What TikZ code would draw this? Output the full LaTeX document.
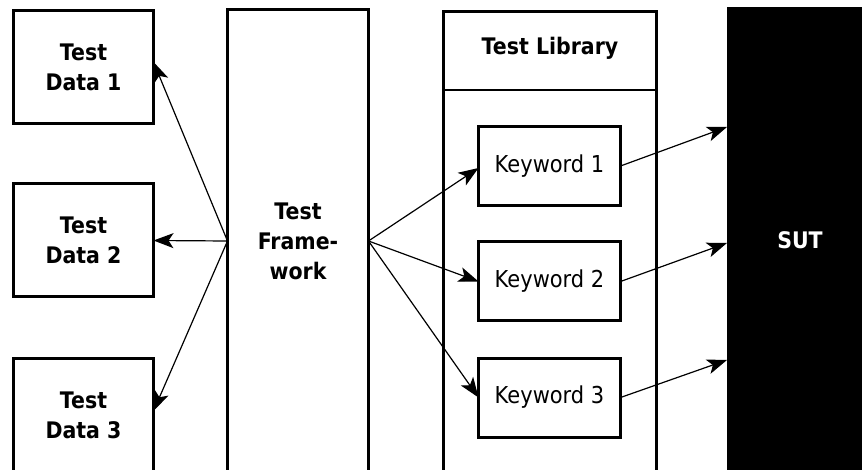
\documentclass[tikz,border=0pt]{standalone}
\usepackage{fontspec}
\setmainfont{DejaVu Sans}[FakeStretch=0.9]
\usetikzlibrary{arrows.meta}
\begin{document}
\begin{tikzpicture}[x=1pt,y=-1pt,
  box/.style={draw, line width=3pt, inner sep=0pt, outer sep=0pt, align=center,
    font=\fontsize{22.8}{30}\selectfont\bfseries},
  kwbox/.style={box, minimum width=142pt, minimum height=79pt,
    font=\fontsize{23.3}{30}\selectfont},
  databox/.style={box, minimum width=140pt, minimum height=113pt},
  link/.style={line width=1.2pt, -{Stealth[length=20pt,width=15pt,inset=5pt]}}]
\useasboundingbox (0,0) rectangle (862,470);
\clip (0,0) rectangle (862,470);

% test data files
\node[databox] (td1) at (83.5,67)    {Test\\Data 1};
\node[databox] (td2) at (83.5,240.5) {Test\\Data 2};
\node[databox] (td3) at (83.5,415)   {Test\\Data 3};

% test framework
\node[box, minimum width=141pt, minimum height=463pt] (fw) at (298,241) {Test\\Frame-\\work};

% test library with its keywords
\node[box, minimum width=213pt, minimum height=461pt] (lib) at (550,241.75) {};
\node[font=\fontsize{22.8}{30}\selectfont\bfseries] (libtitle) at (550,48) {Test Library};
\coordinate (hdr) at (550,90);
\draw[line width=2pt] (lib.west |- hdr) -- (lib.east |- hdr);
\node[kwbox] (k1) at (549.5,166)   {Keyword 1};
\node[kwbox] (k2) at (549.5,281.5) {Keyword 2};
\node[kwbox] (k3) at (549.5,397.5) {Keyword 3};

% system under test
\node[fill=black, text=white, inner sep=0pt, outer sep=0pt,
  minimum width=146pt, minimum height=466pt,
  font=\fontsize{22.8}{30}\selectfont\bfseries] (sut) at (800,240) {SUT};
\coordinate (s1) at (727,127);
\coordinate (s2) at (727,243);
\coordinate (s3) at (727,360);

% framework reads the test data
\draw[link] (fw.west) -- ([yshift=5pt]td1.east);
\draw[link] (fw.west) -- (td2.east);
\draw[link] (fw.west) -- ([yshift=4pt]td3.east);

% framework calls the keywords
\draw[link] (fw.east) -- ([yshift=-2pt]k1.west);
\draw[link] (fw.east) -- (k2.west);
\draw[link] (fw.east) -- (k3.west);

% keywords drive the SUT
\draw[link] (k1.east) -- (s1);
\draw[link] (k2.east) -- (s2);
\draw[link] (k3.east) -- (s3);
\end{tikzpicture}
\end{document}
